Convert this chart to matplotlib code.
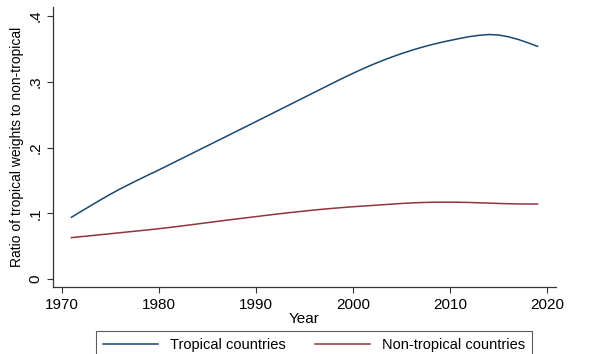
import numpy as np
import matplotlib.pyplot as plt

plt.rcParams['font.family'] = ['Liberation Sans', 'DejaVu Sans']

years = list(range(1971, 2020))

tropical = [0.0940, 0.1030, 0.1118, 0.1205, 0.1290, 0.1370, 0.1445, 0.1518, 0.1590, 0.1660,
            0.1733, 0.1807, 0.1880, 0.1954, 0.2027, 0.2101, 0.2174, 0.2248, 0.2321, 0.2395,
            0.2469, 0.2543, 0.2617, 0.2691, 0.2765, 0.2839, 0.2913, 0.2987, 0.3060, 0.3130,
            0.3198, 0.3262, 0.3322, 0.3378, 0.3430, 0.3478, 0.3522, 0.3562, 0.3598, 0.3630,
            0.3660, 0.3688, 0.3708, 0.3720, 0.3712, 0.3685, 0.3645, 0.3595, 0.3540]

non_tropical = [0.0630, 0.0645, 0.0660, 0.0675, 0.0690, 0.0705, 0.0720, 0.0735, 0.0750, 0.0766,
                0.0783, 0.0801, 0.0820, 0.0839, 0.0858, 0.0877, 0.0896, 0.0914, 0.0932, 0.0950,
                0.0968, 0.0986, 0.1003, 0.1019, 0.1035, 0.1050, 0.1064, 0.1077, 0.1089, 0.1100,
                0.1110, 0.1120, 0.1130, 0.1140, 0.1150, 0.1158, 0.1164, 0.1168, 0.1170, 0.1170,
                0.1168, 0.1165, 0.1160, 0.1155, 0.1150, 0.1146, 0.1143, 0.1142, 0.1142]

yticks = [0, 0.1, 0.2, 0.3, 0.4]
ytick_labels = ["0", ".1", ".2", ".3", ".4"]
xticks = [1970, 1980, 1990, 2000, 2010, 2020]

fig = plt.figure(figsize=(5.89, 3.54), dpi=100)
ax = fig.add_axes([0.09, 0.189, 0.854, 0.791])

ax.plot(years, tropical, color="#1a476f", lw=1.1, label="Tropical countries")
ax.plot(years, non_tropical, color="#90353b", lw=1.1, label="Non-tropical countries")

ax.set_xlim(1969.1, 2020.9)
ax.set_ylim(-0.0122, 0.4137)
ax.set_xticks(xticks)
ax.set_yticks(yticks)
ax.set_yticklabels(ytick_labels, rotation=90, va="center")
ax.tick_params(labelsize=11, direction="out", length=4, color="#333333")
for s in ["top", "right"]:
    ax.spines[s].set_visible(False)
for s in ["left", "bottom"]:
    ax.spines[s].set_color("#333333")
    ax.spines[s].set_linewidth(0.9)

ax.set_xlabel("Year", fontsize=11, labelpad=0)
ax.set_ylabel("Ratio of tropical weights to non-tropical", fontsize=10, labelpad=3)

leg = fig.legend(loc="upper center", bbox_to_anchor=(0.533, 0.066), bbox_transform=fig.transFigure,
                 ncol=2, fontsize=10.5, handlelength=3.8, columnspacing=2.0, fancybox=False,
                 frameon=True, borderpad=0.5, borderaxespad=0)
leg.get_frame().set_edgecolor("#333333")
leg.get_frame().set_linewidth(0.8)

fig.savefig("out.png", dpi=100)
